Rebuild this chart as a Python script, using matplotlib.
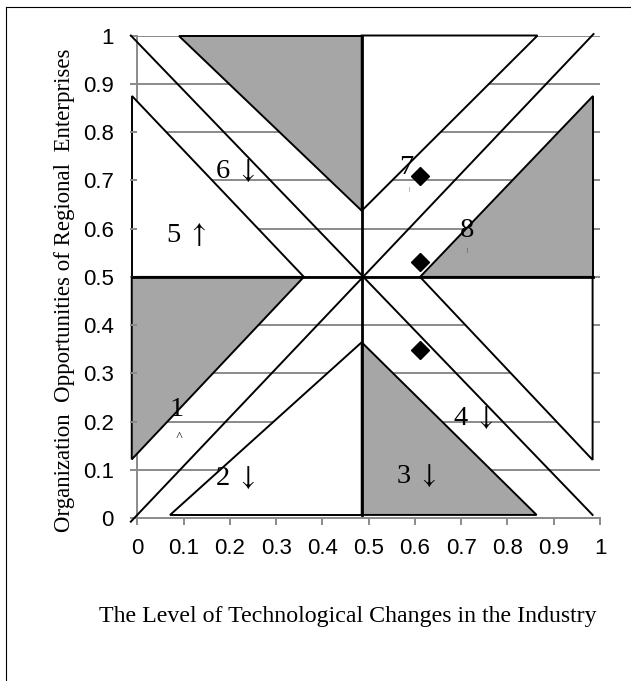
import matplotlib
matplotlib.use('Agg')
import matplotlib.pyplot as plt
from matplotlib.patches import Polygon
from matplotlib.lines import Line2D

plt.rcParams['mathtext.fontset'] = 'stix'

# region vertices (x, y), with fill colour of each half
GRAY = '#a6a6a6'
top_left = [(0.091, 1.0), (0.485, 1.0), (0.485, 0.637)]
top_right = [(0.485, 1.0), (0.865, 1.0), (0.485, 0.637)]
left_upper = [(-0.012, 0.875), (-0.012, 0.5), (0.36, 0.5)]
left_lower = [(-0.012, 0.5), (-0.012, 0.122), (0.36, 0.5)]
bottom_left = [(0.071, 0.007), (0.485, 0.007), (0.485, 0.3645)]
bottom_right = [(0.485, 0.007), (0.863, 0.007), (0.485, 0.3645)]
right_upper = [(0.984, 0.875), (0.984, 0.5), (0.611, 0.5)]
right_lower = [(0.984, 0.5), (0.984, 0.121), (0.611, 0.5)]
regions = [top_left, top_right, left_upper, left_lower,
           bottom_left, bottom_right, right_upper, right_lower]
region_colors = [GRAY, 'white', 'white', GRAY, 'white', GRAY, GRAY, 'white']

# the two diagonals of the X and the cross lines
diag_a_x = [-0.014, 0.984]
diag_a_y = [1.0, 0.007]
diag_b_x = [-0.014, 0.986]
diag_b_y = [-0.007, 1.003]
vert_x = [0.485, 0.485]
vert_y = [0.007, 1.0]
horiz_x = [-0.012, 0.984]
horiz_y = [0.5, 0.5]

# enterprises (diamonds)
pts_x = [0.611, 0.611, 0.611]
pts_y = [0.71, 0.531, 0.349]

# zone labels: text, x, baseline y
zone_text = ['1', r'2 $\downarrow$', r'3 $\downarrow$', r'4 $\downarrow$',
             r'5 $\uparrow$', r'6 $\downarrow$', '7', '8']
zone_x = [0.086, 0.211, 0.603, 0.726, 0.105, 0.212, 0.582, 0.712]
zone_y = [0.212, 0.069, 0.0725, 0.193, 0.573, 0.704, 0.714, 0.583]
# tiny marks under some labels
mark_text = ['\u02c4', '|', '|']
mark_x = [0.09, 0.587, 0.712]
mark_y = [0.17, 0.68, 0.554]
mark_size = [9, 4, 4]

ticks = [0, 0.1, 0.2, 0.3, 0.4, 0.5, 0.6, 0.7, 0.8, 0.9, 1]
tick_labels = ['0', '0.1', '0.2', '0.3', '0.4', '0.5', '0.6', '0.7', '0.8', '0.9', '1']

W, H = 631, 681
fig = plt.figure(figsize=(W / 100, H / 100), dpi=100)
ax = fig.add_axes([137.3 / W, 1 - 518.3 / H, 462.7 / W, 482.8 / H])
ax.set_xlim(0, 1)
ax.set_ylim(0, 1)

serif = ['Liberation Serif', 'DejaVu Serif']
sans = ['Liberation Sans', 'DejaVu Sans']
grid_col = '#8a8a8a'

# gridlines and axes
for t in ticks[1:]:
    ax.axhline(t, color=grid_col, lw=1.4, zorder=0.5)
for s in ['top', 'right']:
    ax.spines[s].set_visible(False)
for s in ['left', 'bottom']:
    ax.spines[s].set_color(grid_col)
    ax.spines[s].set_linewidth(1.4)
    ax.spines[s].set_zorder(0.5)
ax.set_xticks(ticks)
ax.set_yticks(ticks)
ax.set_xticklabels(tick_labels, family=sans, fontsize=16)
ax.set_yticklabels(tick_labels, family=sans, fontsize=16)
ax.tick_params(axis='both', length=5, width=1.4, color=grid_col, direction='out')
ax.tick_params(axis='x', pad=9)
ax.tick_params(axis='y', pad=12)

# filled regions
for verts, c in zip(regions, region_colors):
    ax.add_patch(Polygon(verts, closed=True, facecolor=c, edgecolor='black',
                         lw=1.4, zorder=1, clip_on=False))

ax.plot(diag_a_x, diag_a_y, color='black', lw=1.4, zorder=2, clip_on=False)
ax.plot(diag_b_x, diag_b_y, color='black', lw=1.4, zorder=2, clip_on=False)
ax.plot(vert_x, vert_y, color='black', lw=2, zorder=3, clip_on=False)
ax.plot(horiz_x, horiz_y, color='black', lw=2, zorder=3, clip_on=False)

ax.plot(pts_x, pts_y, linestyle='none', marker='D', markersize=9.5,
        color='black', zorder=4)

for t, x, y in zip(zone_text, zone_x, zone_y):
    ax.text(x, y, t, family=serif, fontsize=20.5, ha='center', va='baseline', zorder=5)
for t, x, y, s in zip(mark_text, mark_x, mark_y, mark_size):
    ax.text(x, y, t, family=serif, fontsize=s, ha='center', va='center', zorder=5)

fig.text(347.8 / W, 1 - 621.7 / H, 'The Level of Technological Changes in the Industry',
         family=serif, fontsize=17.2, ha='center', va='baseline')
fig.text(64.5 / W, 1 - 290 / H, 'Organization  Opportunities of Regional  Enterprises',
         family=serif, fontsize=16.5, rotation=90, ha='center', va='center')

# outer frame (top and left edges visible)
fig.add_artist(Line2D([6 / W, 1.0], [1 - 7 / H, 1 - 7 / H], color='black', lw=0.8))
fig.add_artist(Line2D([6 / W, 6 / W], [0, 1 - 7 / H], color='black', lw=0.8))

fig.savefig('out.png', dpi=100)
